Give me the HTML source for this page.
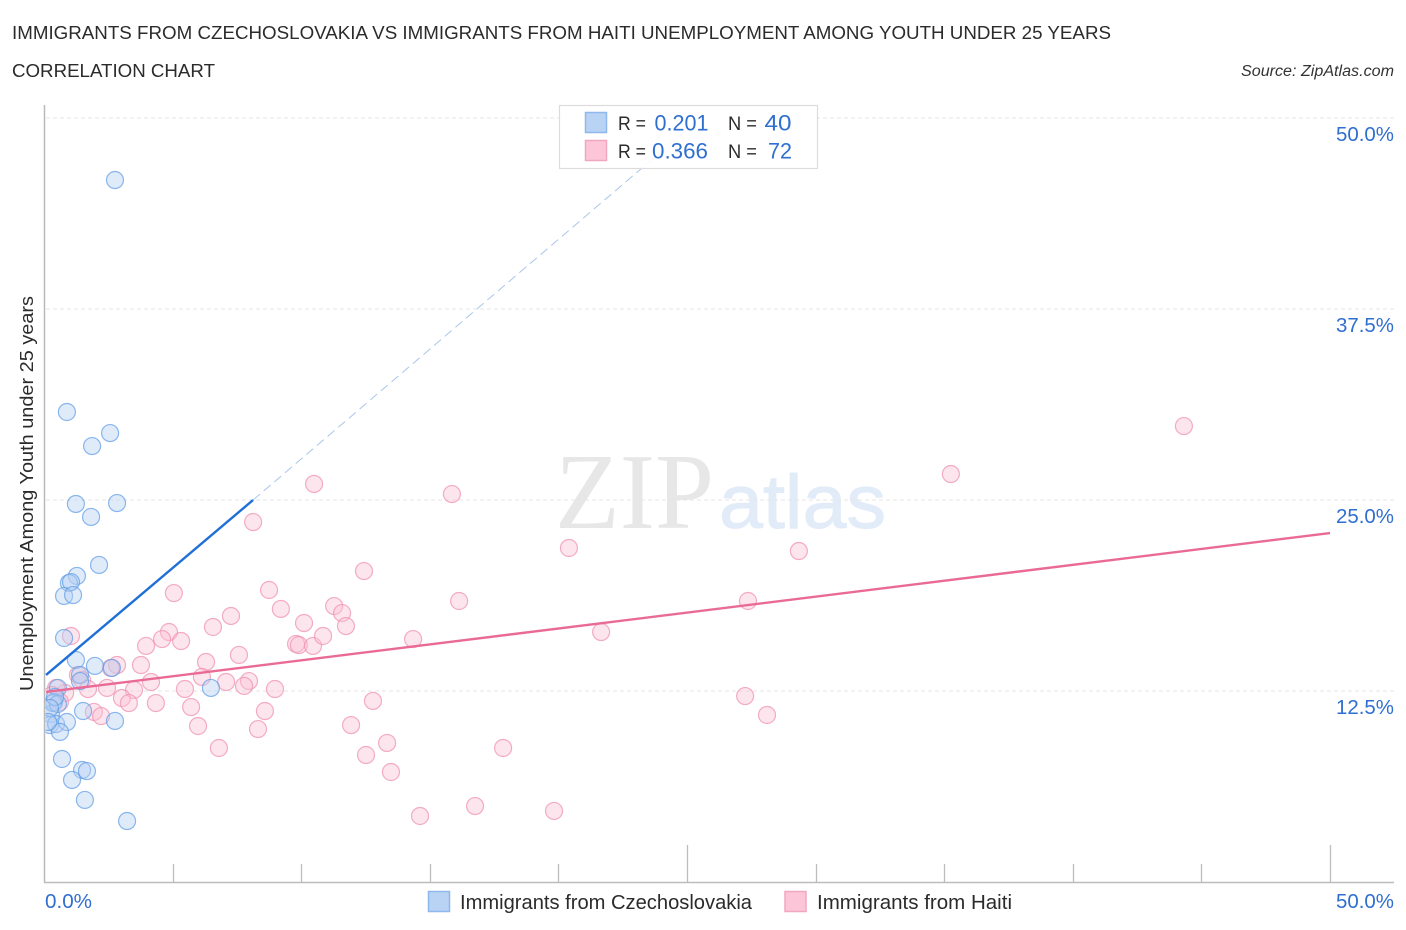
<!DOCTYPE html>
<html>
<head>
<meta charset="utf-8">
<title>Immigrants from Czechoslovakia vs Immigrants from Haiti Correlation Chart</title>
<style>
html,body{margin:0;padding:0;background:#fff;width:1406px;height:930px;overflow:hidden}
svg{display:block}
text{font-family:"Liberation Sans",sans-serif}
</style>
</head>
<body>
<svg id="chart" xmlns="http://www.w3.org/2000/svg" width="1406" height="930" viewBox="0 0 1406 930">
  <defs>
    <clipPath id="plot-clip"><rect x="45.5" y="100" width="1360" height="782"/></clipPath>
  </defs>
  <g>
    <text x="555" y="528" font-size="108" fill="#e7e7e7" textLength="159" lengthAdjust="spacingAndGlyphs" style="font-family:'Liberation Serif',serif">ZIP</text>
    <text x="719" y="528" font-size="76" fill="#e2ecf9" stroke="#e2ecf9" stroke-width="1" textLength="167" lengthAdjust="spacingAndGlyphs" style="font-family:'Liberation Sans',sans-serif">atlas</text>
  </g>
  <g id="grid"></g>
  <g id="axes"></g>
  <g clip-path="url(#plot-clip)">
    <g id="points-haiti"></g>
    <g id="points-czech"></g>
  </g>
  <g id="trends"></g>
  <g id="ylabels"></g>

  <text x="12" y="39" font-size="18.5" fill="#2b2b2b" textLength="1099" lengthAdjust="spacingAndGlyphs">IMMIGRANTS FROM CZECHOSLOVAKIA VS IMMIGRANTS FROM HAITI UNEMPLOYMENT AMONG YOUTH UNDER 25 YEARS</text>
  <text x="12" y="77" font-size="18.5" fill="#2b2b2b" textLength="203" lengthAdjust="spacingAndGlyphs">CORRELATION CHART</text>
  <text x="1241" y="76" font-size="15.5" font-style="italic" fill="#333" textLength="153" lengthAdjust="spacingAndGlyphs">Source: ZipAtlas.com</text>
  <text transform="translate(33,691) rotate(-90)" x="0" y="0" font-size="18.5" fill="#2b2b2b" textLength="395" lengthAdjust="spacingAndGlyphs">Unemployment Among Youth under 25 years</text>

  <g>
    <rect x="559.5" y="105.5" width="258" height="63" fill="#fff" fill-opacity="0.9" stroke="#dcdcdc" stroke-width="1.2"/>
    <rect x="585.5" y="112.5" width="21" height="20" fill="#b9d3f5" stroke="#8fb8ec" stroke-width="1.5"/>
    <rect x="585.5" y="140.5" width="21" height="20" fill="#fcc5d8" stroke="#f2a7c0" stroke-width="1.5"/>
    <text x="618" y="130" font-size="19" fill="#2b2b2b" textLength="28" lengthAdjust="spacingAndGlyphs">R =</text>
    <text x="654.5" y="130.5" font-size="22" fill="#2f6fd0" textLength="54" lengthAdjust="spacingAndGlyphs">0.201</text>
    <text x="728" y="130" font-size="19" fill="#2b2b2b" textLength="29" lengthAdjust="spacingAndGlyphs">N =</text>
    <text x="764.5" y="130.5" font-size="22" fill="#2f6fd0" textLength="27" lengthAdjust="spacingAndGlyphs">40</text>
    <text x="618" y="158" font-size="19" fill="#2b2b2b" textLength="28" lengthAdjust="spacingAndGlyphs">R =</text>
    <text x="652" y="158.5" font-size="22" fill="#2f6fd0" textLength="56" lengthAdjust="spacingAndGlyphs">0.366</text>
    <text x="728" y="158" font-size="19" fill="#2b2b2b" textLength="29" lengthAdjust="spacingAndGlyphs">N =</text>
    <text x="768" y="158.5" font-size="22" fill="#2f6fd0" textLength="24" lengthAdjust="spacingAndGlyphs">72</text>
  </g>

  <text x="45" y="908" font-size="20" fill="#2f6fd0" textLength="47" lengthAdjust="spacingAndGlyphs">0.0%</text>
  <text x="1336" y="908" font-size="20" fill="#2f6fd0" textLength="58" lengthAdjust="spacingAndGlyphs">50.0%</text>

  <g>
    <rect x="428.5" y="891.5" width="21" height="20" fill="#b9d3f5" stroke="#8fb8ec" stroke-width="1.5"/>
    <text x="460" y="909" font-size="20" fill="#2b2b2b" textLength="292" lengthAdjust="spacingAndGlyphs">Immigrants from Czechoslovakia</text>
    <rect x="785" y="891.5" width="21" height="20" fill="#fcc5d8" stroke="#f2a7c0" stroke-width="1.5"/>
    <text x="817" y="909" font-size="20" fill="#2b2b2b" textLength="195" lengthAdjust="spacingAndGlyphs">Immigrants from Haiti</text>
  </g>
</svg>
<script>
var yTickValues = [12.5, 25, 37.5, 50];
var yTickLabels = ["12.5%", "25.0%", "37.5%", "50.0%"];
var xTickValues = [0, 5, 10, 15, 20, 25, 30, 35, 40, 45, 50];
var xMajorTicks = [25, 50];

var czechX = [2.76,0.89,2.57,1.87,1.24,2.84,1.83,2.14,1.28,0.97,1.05,0.78,1.13,0.78,1.24,1.98,2.64,1.40,1.40,1.52,6.49,2.76,0.70,1.48,1.67,1.09,1.59,3.23,0.54,0.39,0.27,0.35,0.23,0.47,0.89,0.62,0.54,0.43,0.23,0.16];
var czechY = [45.94,30.76,29.38,28.53,24.74,24.80,23.89,20.75,20.03,19.57,19.63,18.72,18.78,15.97,14.53,14.14,14.01,13.55,13.15,11.19,12.70,10.54,8.05,7.33,7.26,6.68,5.37,3.99,12.70,11.78,10.99,11.71,10.27,10.34,10.47,9.82,11.65,12.11,11.39,10.47];

var haitiX = [5.05,8.75,9.21,10.11,7.27,6.57,4.86,4.59,5.33,3.97,1.05,9.80,9.91,10.46,10.85,6.30,7.58,3.77,2.84,2.60,1.32,1.48,6.14,4.16,3.50,2.45,1.71,5.48,7.08,7.97,7.78,8.98,3.03,3.30,4.35,5.72,8.59,1.94,2.22,5.99,8.32,6.80,8.13,10.50,12.44,15.86,20.41,29.35,35.26,44.32,11.28,11.59,11.74,16.14,14.35,21.66,27.37,27.26,28.11,12.79,11.94,13.34,12.52,13.49,14.62,16.76,19.83,17.85,0.82,0.47,0.31,0.62];
var haitiY = [18.91,19.11,17.87,16.95,17.41,16.69,16.36,15.90,15.77,15.45,16.10,15.58,15.51,15.45,16.10,14.40,14.86,14.20,14.20,14.01,13.55,13.22,13.42,13.09,12.57,12.70,12.63,12.63,13.09,13.15,12.83,12.63,12.04,11.71,11.71,11.45,11.19,11.13,10.86,10.21,10.01,8.77,23.56,26.05,20.35,25.39,21.86,21.66,26.70,29.84,18.06,17.60,16.75,18.39,15.90,16.36,18.39,12.17,10.93,11.85,10.27,9.10,8.31,7.20,4.32,4.97,4.65,8.77,12.37,12.70,12.24,11.78];

var czechTrendX = [0.08, 8.13, 25.53];
var czechTrendY = [13.55, 25.0, 50.0];
var haitiTrendX = [0.08, 50];
var haitiTrendY = [12.44, 22.84];

var NS = "http://www.w3.org/2000/svg";
var X0 = 44, X1 = 1330, Y0 = 882, Y1 = 118, XMAX = 50, YMAX = 50;
function xScale(v) { return X0 + (v / XMAX) * (X1 - X0); }
function yScale(v) { return Y0 - (v / YMAX) * (Y0 - Y1); }

function make(tag, attrs, parent) {
  var el = document.createElementNS(NS, tag);
  for (var k in attrs) el.setAttribute(k, attrs[k]);
  parent.appendChild(el);
  return el;
}

var grid = document.getElementById("grid");
var axes = document.getElementById("axes");
var ylabels = document.getElementById("ylabels");
var trends = document.getElementById("trends");

yTickValues.forEach(function (v, i) {
  var gl = make("line", { x1: X0 + 2, x2: 1394, y1: yScale(v), y2: yScale(v), stroke: "#e6e6e6", "stroke-width": 1, "stroke-dasharray": "4 3" }, grid);
  
  
  var t = make("text", { x: 1336, y: yScale(v) + 23, "font-size": 20, fill: "#2f6fd0", textLength: 58, lengthAdjust: "spacingAndGlyphs" }, ylabels);
  t.textContent = yTickLabels[i];
  
  
});

var yAxis = make("line", { x1: 44.5, x2: 44.5, y1: 105, y2: 883, stroke: "#b9b9b9", "stroke-width": 1.5 }, axes);


var xAxis = make("line", { x1: 44, x2: 1394, y1: 882.5, y2: 882.5, stroke: "#bdbdbd", "stroke-width": 1.6 }, axes);



xTickValues.forEach(function (v) {
  if (v === 0) return;
  var top = xMajorTicks.indexOf(v) >= 0 ? 845 : 864;
  var px = Math.round(xScale(v)) + 0.5;
  var tk = make("line", { x1: px, x2: px, y1: top, y2: 882, stroke: "#bdbdbd", "stroke-width": 1.3 }, axes);
  
  
});

function drawPoints(groupId, xs, ys, fill, stroke, name) {
  var g = document.getElementById(groupId);
  xs.forEach(function (x, i) {
    var c = make("circle", { cx: xScale(x), cy: yScale(ys[i]), r: 8.5, fill: fill, "fill-opacity": 0.42, stroke: stroke, "stroke-opacity": 0.72, "stroke-width": 1.2 }, g);
    
    
  });
}
drawPoints("points-haiti", haitiX, haitiY, "#fbc0d4", "#ee8fae", "haiti-point");
drawPoints("points-czech", czechX, czechY, "#b4d0f4", "#5f9de6", "czechoslovakia-point");

var czechSolid = make("line", { x1: xScale(czechTrendX[0]), y1: yScale(czechTrendY[0]), x2: xScale(czechTrendX[1]), y2: yScale(czechTrendY[1]), stroke: "#1f6fd8", "stroke-width": 2.4 }, trends);


var czechDash = make("line", { x1: xScale(czechTrendX[1]), y1: yScale(czechTrendY[1]), x2: xScale(czechTrendX[2]), y2: yScale(czechTrendY[2]), stroke: "#a9c5ec", "stroke-width": 1, "stroke-dasharray": "9 5" }, trends);


var haitiLine = make("line", { x1: xScale(haitiTrendX[0]), y1: yScale(haitiTrendY[0]), x2: xScale(haitiTrendX[1]), y2: yScale(haitiTrendY[1]), stroke: "#ea6a97", "stroke-width": 2.4 }, trends);


</script>
</body>
</html>
